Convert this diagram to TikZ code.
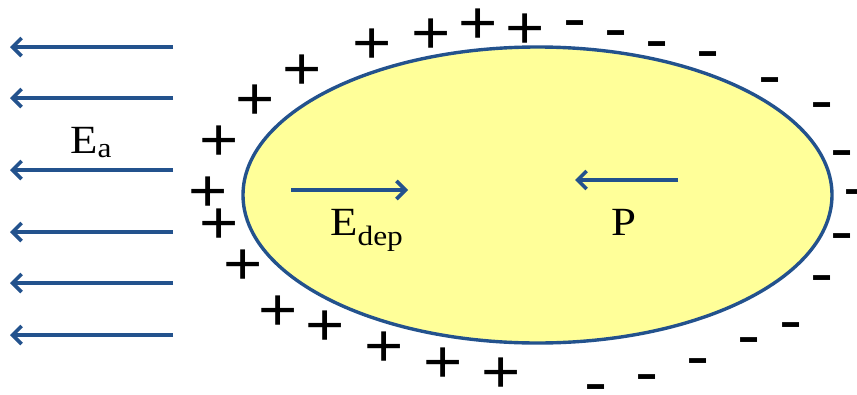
\documentclass[tikz,border=0pt]{standalone}
\usepackage{fontspec}
\setmainfont{Liberation Serif}
\newfontfamily\chargefont{Liberation Sans}
\usepackage{tikz}
\usetikzlibrary{arrows.meta,shapes.geometric}

\definecolor{fieldblue}{HTML}{23528D}
\definecolor{dropfill}{HTML}{FFFF99}

\begin{document}
\begin{tikzpicture}[
  x=1pt, y=-1pt,
  field/.style={draw=fieldblue, line width=3.6pt, -{Straight Barb[length=9pt, width=18pt, line width=3.6pt]}},
  drop/.style={ellipse, draw=fieldblue, fill=dropfill, line width=3.4pt, minimum width=589pt, minimum height=296pt, inner sep=0pt},
  lbl/.style={anchor=base west, inner sep=0pt, font=\fontsize{40}{48}\selectfont, xscale=1.12},
  plus/.style={inner sep=0pt, text height=42pt, text depth=0pt, font=\chargefont\fontsize{60}{60}\selectfont, xscale=1.12},
  minus/.style={inner sep=0pt, text height=34.5pt, text depth=0pt, font=\chargefont\fontsize{62}{62}\selectfont, xscale=1.12}
]
\useasboundingbox (0,0) rectangle (857,394);

% applied field
\foreach \y [count=\i] in {47,98,170,232,283,335} {
  \coordinate (ea-s-\i) at (173,\y);
  \coordinate (ea-e-\i) at (10,\y);
  \draw[field] (ea-s-\i) -- (ea-e-\i);
}
\node[lbl] (ea) at (70,153) {E\textsubscript{a}};

% particle
\node[drop] (particle) at (537.5,195) {};

\coordinate (dep-s) at (291,190);
\coordinate (dep-e) at (408,190);
\draw[field] (dep-s) -- (dep-e);
\node[lbl] (edep) at (330,235) {E\textsubscript{dep}};

\coordinate (pol-s) at (678,180);
\coordinate (pol-e) at (575,180);
\draw[field] (pol-s) -- (pol-e);
\node[lbl] (pol) at (611,235) {P};

% surface charges
\foreach \p [count=\i] in {(525,27),(478,22),(431,32),(372,42),(302,68),(255,98),(219,139),(208,190),
                          (219,222),(243,263),(278,309),(325,324),(384,345),(443,361),(501,371)}
  \node[plus] (pos-\i) at \p {+};
\foreach \p [count=\i] in {(575,22),(616,32),(657,43),(708,53),(770,79),(822,104),(842,152),(855,191),
                          (842,235),(822,277),(791,324),(749,339),(698,360),(647,376),(596,386)}
  \node[minus] (neg-\i) at \p {-};
\end{tikzpicture}
\end{document}
